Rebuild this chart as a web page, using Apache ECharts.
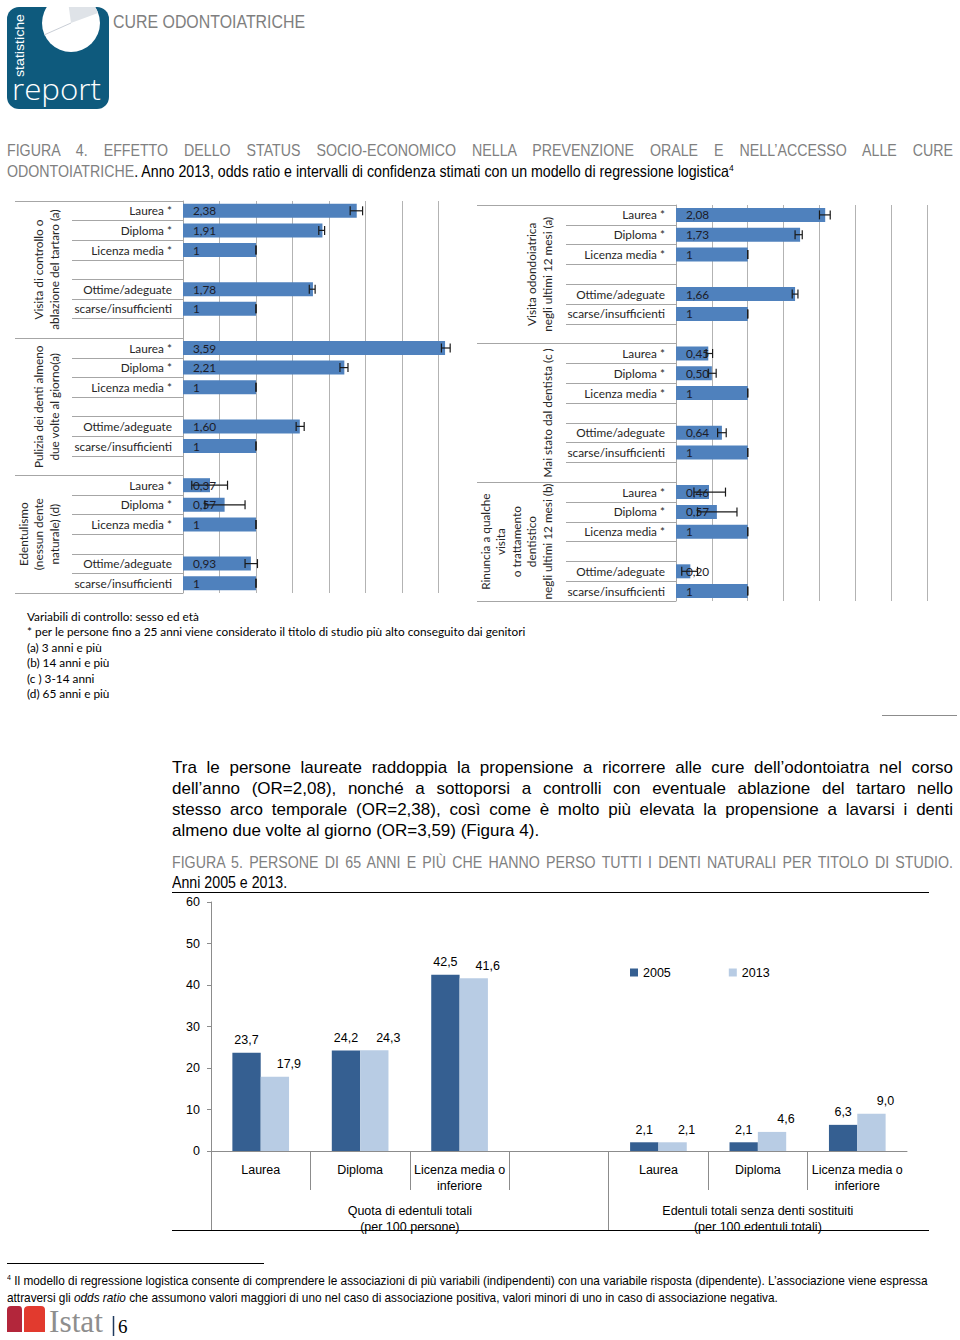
<!DOCTYPE html>
<html><head><meta charset="utf-8">
<script src="https://cdn.jsdelivr.net/npm/echarts@6/dist/echarts.min.js"></script>
<style>
html,body{margin:0;padding:0;background:#fff;}
#page{position:relative;width:960px;height:1340px;overflow:hidden;background:#fff;}
#chart{position:absolute;left:0;top:0;width:960px;height:1340px;}
.t{position:absolute;white-space:nowrap;}
.nw{font-family:"Liberation Sans",Arial,sans-serif;transform:scaleX(0.86);transform-origin:0 0;}
.fn{font-family:"Liberation Sans",Arial,sans-serif;transform:scaleX(0.875);transform-origin:0 0;}
.arial{font-family:"Liberation Sans",Arial,sans-serif;}
.cal{font-family:Lato,"Open Sans",sans-serif;}
.j{text-align:justify;text-align-last:justify;white-space:nowrap;}
.rule{position:absolute;height:1px;background:#000;}
sup{font-size:60%;line-height:0;vertical-align:super;}
</style></head>
<body><div id="page">
<div id="chart"></div>

<!-- logo -->
<svg class="t" style="left:7px;top:7px" width="102" height="102">
 <defs><clipPath id="cp"><rect width="102" height="102" rx="12"/></clipPath></defs>
 <rect width="102" height="102" rx="12" fill="#0E5A7D"/>
 <g clip-path="url(#cp)">
  <circle cx="64" cy="16" r="29" fill="#fff"/>
  <path d="M64 16 L60 -13 A29 29 0 0 1 91 6 Z" fill="#dfe3e8"/>
  <line x1="64" y1="16" x2="37" y2="28" stroke="#c9ced6" stroke-width="1"/>
 </g>
 <text transform="translate(17,70) rotate(-90)" fill="#fff" font-size="13" font-family="Liberation Sans" textLength="63" lengthAdjust="spacingAndGlyphs">statistiche</text>
 <text x="5" y="93" fill="#fff" font-size="30" font-family="Open Sans" font-weight="300" textLength="89" lengthAdjust="spacingAndGlyphs">report</text>
</svg>
<div class="t nw" style="left:113px;top:11px;font-size:18.5px;line-height:22px;color:#7f7f7f;">CURE ODONTOIATRICHE</div>

<!-- figure 4 title -->
<div class="t nw j" style="left:7px;top:139px;width:1100px;font-size:16.5px;line-height:22px;color:#808080;">FIGURA 4. EFFETTO DELLO STATUS SOCIO-ECONOMICO NELLA PREVENZIONE ORALE E NELL’ACCESSO ALLE CURE</div>
<div class="t nw" style="left:7px;top:160px;font-size:16.5px;line-height:22px;color:#000;"><span style="color:#808080">ODONTOIATRICHE</span>. Anno 2013, odds ratio e intervalli di confidenza stimati con un modello di regressione logistica<sup>4</sup></div>

<!-- figure 4 notes -->
<div class="t cal" style="left:27px;top:609px;font-size:11.8px;line-height:15.4px;color:#000;">
Variabili di controllo: sesso ed età<br>
* per le persone fino a 25 anni viene considerato il titolo di studio più alto conseguito dai genitori<br>
(a) 3 anni e più<br>
(b) 14 anni e più<br>
(c ) 3-14 anni<br>
(d) 65 anni e più
</div>
<div class="rule" style="left:882px;top:715px;width:75px;background:#8c8c8c;"></div>

<!-- paragraph -->
<div class="t arial j" style="left:172px;top:757px;width:781px;font-size:17px;line-height:21px;">Tra le persone laureate raddoppia la propensione a ricorrere alle cure dell’odontoiatra nel corso</div>
<div class="t arial j" style="left:172px;top:778px;width:781px;font-size:17px;line-height:21px;">dell’anno (OR=2,08), nonché a sottoporsi a controlli con eventuale ablazione del tartaro nello</div>
<div class="t arial j" style="left:172px;top:799px;width:781px;font-size:17px;line-height:21px;">stesso arco temporale (OR=2,38), così come è molto più elevata la propensione a lavarsi i denti</div>
<div class="t arial" style="left:172px;top:820px;font-size:17px;line-height:21px;">almeno due volte al giorno (OR=3,59) (Figura 4).</div>

<!-- figure 5 title -->
<div class="t nw j" style="left:172px;top:851px;width:908px;font-size:16.5px;line-height:22px;color:#808080;">FIGURA 5. PERSONE DI 65 ANNI E PIÙ CHE HANNO PERSO TUTTI I DENTI NATURALI PER TITOLO DI STUDIO.</div>
<div class="t nw" style="left:172px;top:871px;font-size:16.5px;line-height:22px;color:#000;">Anni 2005 e 2013.</div>
<div class="rule" style="left:172px;top:892px;width:757px;"></div>
<div class="rule" style="left:172px;top:1230px;width:757px;"></div>

<!-- footnote -->
<div class="rule" style="left:7px;top:1263px;width:257px;"></div>
<div class="t fn j" style="left:7px;top:1272px;width:1051px;font-size:13.5px;line-height:17px;"><sup>4</sup> Il modello di regressione logistica consente di comprendere le associazioni di più variabili (indipendenti) con una variabile risposta (dipendente). L’associazione viene espressa</div>
<div class="t fn" style="left:7px;top:1289px;font-size:13.5px;line-height:17px;">attraversi gli <i>odds ratio</i> che assumono valori maggiori di uno nel caso di associazione positiva, valori minori di uno in caso di associazione negativa.</div>

<!-- istat logo -->
<svg class="t" style="left:5px;top:1302px" width="130" height="36">
 <path d="M2 30 L2 8 Q2 4 6 4 L14 4 Q17 4 17 8 L17 30 Z" fill="#B3263B"/>
 <path d="M19 30 L19 8 Q19 4 24 4 L36 4 Q40 4 40 8 L40 30 Z" fill="#E23A2E"/>
 <text x="44" y="30" font-family="Liberation Serif" font-size="31" fill="#8e8e8e" textLength="54" lengthAdjust="spacingAndGlyphs">Istat</text>
 <line x1="108.5" y1="14" x2="108.5" y2="34" stroke="#1f3a5f" stroke-width="1.5"/>
 <text x="113" y="31" font-family="Liberation Serif" font-size="19" fill="#000">6</text>
</svg>
</div>

<script>
// ---------- Figure 4 data ----------
const f4Categories = [
  'Laurea *','Diploma *','Licenza media *','','Ottime/adeguate','scarse/insufficienti','',
  'Laurea *','Diploma *','Licenza media *','','Ottime/adeguate','scarse/insufficienti','',
  'Laurea *','Diploma *','Licenza media *','','Ottime/adeguate','scarse/insufficienti'
];
const f4GroupStart = [0, 7, 14];
const f4GroupEnd = [6, 13, 19];
const f4LeftGroupLabels = [
  'Visita di controllo o\nablazione del tartaro (a)',
  'Pulizia dei denti almeno\ndue volte al giorno(a)',
  'Edentulismo\n(nessun dente\nnaturale) (d)'
];
const f4RightGroupLabels = [
  'Visita odondoiatrica\nnegli ultimi 12 mesi (a)',
  'Mai stato dal dentista (c )',
  'Rinuncia a qualche\nvisita\no trattamento\ndentistico\nnegli ultimi 12 mesi (b)'
];
const f4LeftOR   = [2.38,1.91,1,null,1.78,1,null, 3.59,2.21,1,null,1.60,1,null, 0.37,0.57,1,null,0.93,1];
const f4LeftLow  = [2.29,1.86,1,null,1.73,1,null, 3.54,2.15,1,null,1.55,1,null, 0.12,0.30,1,null,0.85,1];
const f4LeftHigh = [2.46,1.94,1,null,1.81,1,null, 3.66,2.26,1,null,1.66,1,null, 0.61,0.85,1,null,1.02,1];
const f4RightOR   = [2.08,1.73,1,null,1.66,1,null, 0.45,0.50,1,null,0.64,1,null, 0.46,0.57,1,null,0.20,1];
const f4RightLow  = [2.00,1.66,1,null,1.62,1,null, 0.42,0.45,1,null,0.58,1,null, 0.25,0.30,1,null,0.08,1];
const f4RightHigh = [2.15,1.76,1,null,1.70,1,null, 0.51,0.56,1,null,0.70,1,null, 0.69,0.85,1,null,0.30,1];

// ---------- Figure 5 data ----------
const f5Categories = ['Laurea','Diploma','Licenza media o\ninferiore','','Laurea','Diploma','Licenza media o\ninferiore'];
const f5GroupLabels = ['Quota di edentuli totali\n(per 100 persone)','Edentuli totali senza denti sostituiti\n(per 100 edentuli totali)'];
const f5GroupStart = [0, 4];
const f5GroupEnd = [3, 6];
const f5SeriesNames = ['2005','2013'];
const f5Values2005 = [23.7, 24.2, 42.5, null, 2.1, 2.1, 6.3];
const f5Values2013 = [17.9, 24.3, 41.6, null, 2.1, 4.6, 9.0];

// ---------- helpers ----------
const CAL = 'Lato';
const NARROW = '"Liberation Sans",Arial,sans-serif';
const F5SIZE = 12.5;
const GRID_GRAY = '#b3b3b3';
const fmtComma = (v, d) => v.toFixed(d).replace('.', ',');
const fmtOR = v => (v === 1 ? '1' : fmtComma(v, 2));
const groupCenters = (s, e) => s.map((st, i) => (st + e[i] + 1) / 2);

function panelAxes(g, groupLabels, xMax, innerLen, outerLen, outerMargin) {
  const centers = groupCenters(f4GroupStart, f4GroupEnd);
  const x = {
    gridIndex: g, type: 'value', position: 'bottom', min: 0, max: xMax, interval: 0.5,
    axisLine: {show: false}, axisTick: {show: false}, axisLabel: {show: false},
    splitLine: {show: true, showMinLine: false, showMaxLine: false, lineStyle: {color: GRID_GRAY, width: 1}}
  };
  const ys = [
    {
      gridIndex: g, type: 'category', position: 'left', data: f4Categories, inverse: true,
      axisLine: {show: true, lineStyle: {color: '#a6a6a6'}},
      axisTick: {show: true, length: innerLen, interval: 0, lineStyle: {color: '#a6a6a6'}},
      axisLabel: {interval: 0, margin: 11, fontFamily: CAL, fontSize: 11.8, color: '#262626'},
      splitLine: {show: false}
    },
    {
      gridIndex: g, type: 'category', position: 'left', data: f4Categories, inverse: true,
      axisLine: {show: false},
      axisTick: {show: true, length: outerLen, interval: i => f4GroupStart.indexOf(i) >= 0, lineStyle: {color: '#a6a6a6'}},
      axisLabel: {show: false}, splitLine: {show: false}
    },
    {
      gridIndex: g, type: 'value', position: 'left', min: 0, max: f4Categories.length, interval: 0.5, inverse: true,
      axisLine: {show: false}, axisTick: {show: false}, splitLine: {show: false},
      axisLabel: {
        show: true, rotate: 90, margin: outerMargin, fontFamily: CAL, fontSize: 11.8, lineHeight: 15.5, color: '#262626',
        formatter: v => { const k = centers.findIndex(c => Math.abs(c - v) < 1e-6); return k >= 0 ? groupLabels[k] : ''; }
      }
    }
  ];
  return {x, ys};
}

function errData(low, high) {
  const out = [];
  low.forEach((l, i) => { if (l != null) out.push([l, high[i], i]); });
  return out;
}
function errRender(params, api) {
  const idx = api.value(2);
  const lo = api.coord([api.value(0), idx]);
  const hi = api.coord([api.value(1), idx]);
  const h = 4.5;
  const st = {stroke: '#1a1a1a', lineWidth: 1.2, fill: null};
  return {type: 'group', children: [
    {type: 'line', shape: {x1: lo[0], y1: lo[1], x2: hi[0], y2: hi[1]}, style: st},
    {type: 'line', shape: {x1: lo[0], y1: lo[1] - h, x2: lo[0], y2: lo[1] + h}, style: st},
    {type: 'line', shape: {x1: hi[0], y1: hi[1] - h, x2: hi[0], y2: hi[1] + h}, style: st}
  ]};
}
function orBar(xi, yi, data) {
  return {
    type: 'bar', xAxisIndex: xi, yAxisIndex: yi, data: data, barWidth: 14, silent: true,
    itemStyle: {color: '#4F81BD'},
    label: {show: true, position: 'insideLeft', distance: 10, formatter: p => fmtOR(p.value),
            fontFamily: CAL, fontSize: 11.8, color: '#1c1c28'}
  };
}
function errSeries(xi, yi, low, high) {
  return {type: 'custom', xAxisIndex: xi, yAxisIndex: yi, data: errData(low, high),
          encode: {x: [0, 1], y: 2}, renderItem: errRender, silent: true, z: 5};
}

const left = panelAxes(0, f4LeftGroupLabels, 4, 111, 168, 121);
const right = panelAxes(1, f4RightGroupLabels, 3.75, 110, 199, 121);
const f5Centers = groupCenters(f5GroupStart, f5GroupEnd);
const f5Inner = [];
for (let i = 1; i < f5Categories.length; i++) if (f5GroupStart.indexOf(i) < 0) f5Inner.push(i);

const chart = echarts.init(document.getElementById('chart'), null, {renderer: 'svg'});
chart.setOption({
  animation: false,
  legend: {
    data: f5SeriesNames, left: 625, top: 961, icon: 'rect', itemWidth: 8, itemHeight: 8, itemGap: 58,
    selectedMode: false, textStyle: {fontFamily: NARROW, fontSize: F5SIZE, color: '#000'}
  },
  grid: [
    {left: 183, top: 201, width: 292, height: 392},
    {left: 676, top: 205, width: 269, height: 396},
    {left: 211, top: 902, width: 696, height: 249}
  ],
  xAxis: [
    left.x, right.x,
    {
      gridIndex: 2, type: 'category', position: 'bottom', data: f5Categories,
      axisLine: {show: true, lineStyle: {color: '#8c8c8c'}}, axisTick: {show: false},
      axisLabel: {interval: 0, margin: 11, fontFamily: NARROW, fontSize: F5SIZE, lineHeight: 16, color: '#000'}
    },
    {
      gridIndex: 2, type: 'value', position: 'bottom', min: 0, max: f5Categories.length,
      axisLine: {show: false}, splitLine: {show: false}, axisLabel: {show: false},
      axisTick: {show: true, customValues: f5Inner, length: 39, lineStyle: {color: '#8c8c8c'}}
    },
    {
      gridIndex: 2, type: 'value', position: 'bottom', min: 0, max: f5Categories.length, interval: 0.5,
      axisLine: {show: false}, splitLine: {show: false},
      axisTick: {show: true, customValues: f5GroupStart, length: 79, lineStyle: {color: '#8c8c8c'}},
      axisLabel: {
        show: true, customValues: f5Centers, margin: 52, fontFamily: NARROW, fontSize: F5SIZE, lineHeight: 16, color: '#000',
        formatter: v => { const k = f5Centers.findIndex(c => Math.abs(c - v) < 1e-6); return k >= 0 ? f5GroupLabels[k] : ''; }
      }
    }
  ],
  yAxis: [
    ...left.ys, ...right.ys,
    {
      gridIndex: 2, type: 'value', position: 'left', min: 0, max: 60, interval: 10,
      axisLine: {show: true, lineStyle: {color: '#8c8c8c'}},
      axisTick: {show: true, length: 4, lineStyle: {color: '#8c8c8c'}},
      splitLine: {show: false},
      axisLabel: {margin: 11, fontFamily: NARROW, fontSize: F5SIZE, color: '#000'}
    }
  ],
  series: [
    orBar(0, 0, f4LeftOR), errSeries(0, 0, f4LeftLow, f4LeftHigh),
    orBar(1, 3, f4RightOR), errSeries(1, 3, f4RightLow, f4RightHigh),
    {
      name: f5SeriesNames[0], type: 'bar', xAxisIndex: 2, yAxisIndex: 6, data: f5Values2005,
      barGap: '0%', barCategoryGap: '43%', itemStyle: {color: '#355F91'},
      label: {show: true, position: 'top', distance: 6, formatter: p => fmtComma(p.value, 1),
              fontFamily: NARROW, fontSize: F5SIZE, color: '#000'}
    },
    {
      name: f5SeriesNames[1], type: 'bar', xAxisIndex: 2, yAxisIndex: 6, data: f5Values2013,
      barGap: '0%', barCategoryGap: '43%', itemStyle: {color: '#B8CCE4'},
      label: {show: true, position: 'top', distance: 6, offset: [14, 0], formatter: p => fmtComma(p.value, 1),
              fontFamily: NARROW, fontSize: F5SIZE, color: '#000'}
    }
  ]
});
</script>
</body></html>
